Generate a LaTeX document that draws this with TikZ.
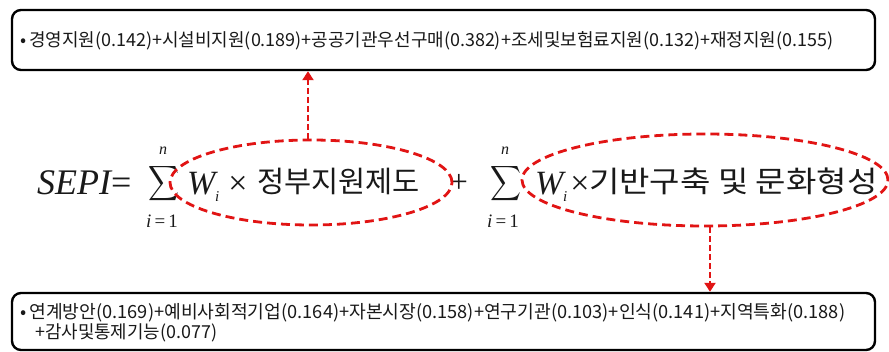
\documentclass[tikz,border=0pt]{standalone}
\usepackage{fontspec}
\setmainfont{Liberation Serif}
\newfontfamily\kr{Noto Sans CJK KR}
\usetikzlibrary{arrows.meta,shapes.geometric,calc}
\definecolor{dred}{RGB}{225,20,20}
\definecolor{ink}{RGB}{25,25,25}
\begin{document}
\begin{tikzpicture}[x=1pt,y=-1pt,
  box/.style={draw=black,line width=2.4pt,rounded corners=9pt,inner sep=0pt,fill=white},
  ell/.style={ellipse,draw=dred,line width=2.8pt,dash pattern=on 9pt off 5pt,inner sep=0pt},
  arr/.style={draw=dred,line width=2.6pt,dash pattern=on 6pt off 3pt,-{Triangle[width=11pt,length=9pt]}},
  txt/.style={inner sep=0pt,text=ink,font=\kr\fontsize{16}{20}\selectfont},
  frm/.style={inner sep=0pt,text=ink},
  lim/.style={inner sep=0pt,text=ink,font=\fontsize{19}{19}\selectfont},
  sup/.style={inner sep=0pt,text=ink,font=\fontsize{16}{16}\selectfont},
]
\useasboundingbox (0,0) rectangle (889,352);
% boxes
\node[box,minimum width=863pt,minimum height=60pt] (top) at (443.5,40) {};
\node[box,minimum width=863pt,minimum height=57pt] (bot) at (443.5,321.5) {};
% box texts
\node[txt,anchor=west] (t1) at (20,41) {\resizebox{813pt}{!}{•\,경영지원(0.142)+시설비지원(0.189)+공공기관우선구매(0.382)+조세및보험료지원(0.132)+재정지원(0.155)}};
\node[txt,anchor=west] (b1) at (20,313) {\resizebox{825pt}{!}{•\,연계방안(0.169)+예비사회적기업(0.164)+자본시장(0.158)+연구기관(0.103)+인식(0.141)+지역특화(0.188)}};
\node[txt,anchor=west] (b2) at (35,333) {\resizebox{182pt}{!}{+감사및통제기능(0.077)}};
% formula
\node[frm,anchor=base west,font=\fontsize{36}{36}\selectfont\itshape] (sepi) at (37,195) {SEPI\upshape=};
\node[frm] (s1) at (164,184) {\resizebox*{31pt}{39pt}{$\displaystyle\sum$}};
\node[sup,anchor=base] (n1) at (163,155) {\textit{n}};
\node[lim] (l1) at (162,221) {\textit{i}\,=\,1};
\node[frm,anchor=base west] (w1) at (187,195) {\fontsize{34}{34}\selectfont\textit{W}\kern-3pt\raisebox{-7pt}{\fontsize{15}{15}\selectfont\textit{i}}\hspace{9pt}×};
\node[frm,anchor=base west,font=\kr\fontsize{29.5}{30}\selectfont] (k1) at (257,193) {정부지원제도};
\node[frm,font=\fontsize{32}{32}\selectfont] (plus) at (459,183) {+};
\node[frm] (s2) at (506,184) {\resizebox*{31pt}{39pt}{$\displaystyle\sum$}};
\node[sup,anchor=base] (n2) at (505,155) {\textit{n}};
\node[lim] (l2) at (503,221) {\textit{i}\,=\,1};
\node[frm,anchor=base west] (w2) at (535,195) {\fontsize{34}{34}\selectfont\textit{W}\kern-3pt\raisebox{-7pt}{\fontsize{15}{15}\selectfont\textit{i}}\hspace{3pt}×};
\node[frm,anchor=base west,font=\kr\fontsize{29.5}{30}\selectfont] (k2) at (589,193) {\scalebox{1.12}[1]{기반구축 및 문화형성}};
% ellipses
\node[ell,minimum width=282pt,minimum height=85pt] (e1) at (311,182.5) {};
\node[ell,minimum width=366pt,minimum height=92pt] (e2) at (705,180) {};
% arrows
\coordinate (e1t) at ($(e1.north)+(-3,0)$);
\coordinate (e2b) at ($(e2.south)+(5,0)$);
\draw[arr] (e1t) -- (e1t |- top.south);
\draw[arr] (e2b) -- (e2b |- bot.north);
\end{tikzpicture}
\end{document}
